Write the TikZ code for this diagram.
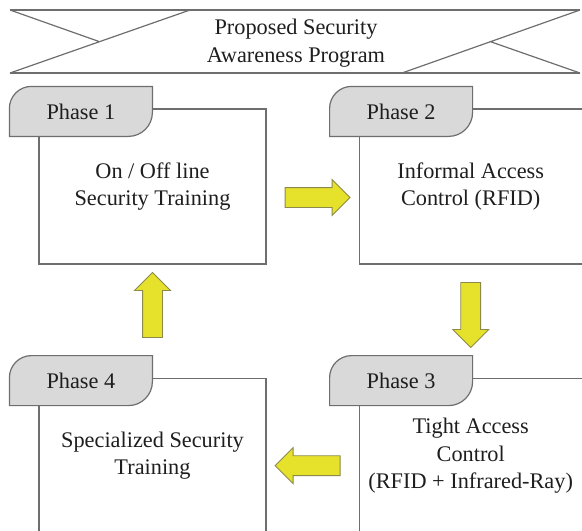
\documentclass[tikz,border=0pt]{standalone}
\usepackage{fontspec}
\setmainfont{Liberation Serif}
\usetikzlibrary{shapes.arrows, positioning, calc}
\definecolor{linegray}{HTML}{6E6E6E}
\definecolor{tabfill}{HTML}{D9D9D9}
\definecolor{arrowfill}{HTML}{E6E22C}
\definecolor{arrowline}{HTML}{8C8A4A}
\definecolor{textdark}{HTML}{1E1E1E}

\begin{document}
\begin{tikzpicture}[x=1pt, y=1pt, node distance=92pt, text=textdark, font=\rmfamily\fontsize{22.3}{27.5}\selectfont]
    \tikzstyle{phasebox} = [rectangle, draw=linegray, line width=1.2pt, minimum width=227pt, minimum height=155pt, inner sep=0pt, align=center]
    \tikzstyle{tabline} = [draw=linegray, fill=tabfill, line width=1.2pt]
    \tikzstyle{tab} = [rectangle, minimum width=143pt, minimum height=50pt, inner sep=0pt]
    \tikzstyle{blockarrow} = [single arrow, draw=arrowline, fill=arrowfill, line width=0.9pt, minimum height=65pt, inner xsep=0pt, inner ysep=9.5pt, single arrow head extend=8pt]
    \tikzstyle{banner} = [draw=linegray, line width=1.2pt]

    \useasboundingbox (0,0) rectangle (582,-531);

    % title ribbon
    \draw[banner] (10,-10) -- (580,-10) (10,-73) -- (580,-73);
    \draw[banner] (190,-10) -- (10,-73) (10,-10) -- (99,-41.5);
    \draw[banner] (402,-73) -- (580,-10) (490,-41.5) -- (580,-73);
    \node [align=center] (title) at (296,-43) {Proposed Security\\Awareness Program};

    % phases
    \node [phasebox] (b1) at (152.5,-186.5) {On / Off line\\Security Training};
    \node [phasebox, minimum width=223pt, right=of b1] (b2) {Informal Access\\Control (RFID)};
    \node [phasebox, minimum width=223pt, below=113pt of b2] (b3) {Tight Access\\Control\\(RFID + Infrared-Ray)};
    \node [phasebox, below=113pt of b1] (b4) {Specialized Security\\Training};

    \foreach \b/\n in {b1/1, b2/2, b3/3, b4/4} {
        \draw[tabline] ([shift={(-29,-28)}]\b.north west) -- ++(0,28) arc[start angle=180, end angle=90, radius=22] -- ++(121,0) -- ++(0,-26) arc[start angle=0, end angle=-90, radius=24] -- cycle;
        \node [tab] (t\n) at ([shift={(42.5,-3)}]\b.north west) {Phase \n};
    }

    % flow arrows
    \node [blockarrow, yshift=-11pt] (a12) at ($(b1.east)!0.5!(b2.west)$) {};
    \node [blockarrow, rotate=-90] (a23) at ($(b2.south)!0.5!(b2.south |- t3.north)$) {};
    \node [blockarrow, rotate=180, yshift=10pt] (a34) at ($(b4.east)!0.5!(b3.west)$) {};
    \node [blockarrow, rotate=90] (a41) at ($(b1.south)!0.5!(b1.south |- t4.north)$) {};
\end{tikzpicture}
\end{document}
